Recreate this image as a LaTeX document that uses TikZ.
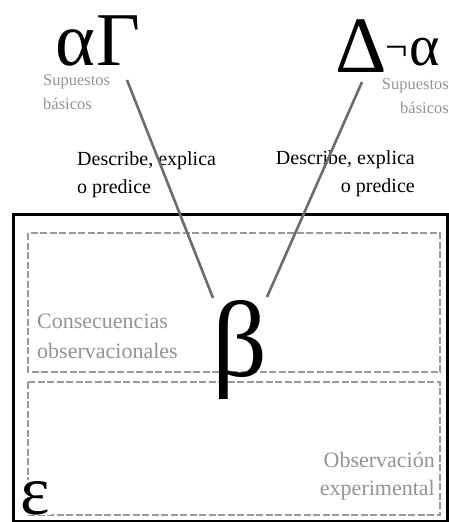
\documentclass[tikz,border=0pt]{standalone}
\usepackage{fontspec}
\setmainfont{Liberation Serif}
\begin{document}
\begin{tikzpicture}[x=1pt,y=1pt,
  lbl/.style={inner sep=0pt},
  graylbl/.style={inner sep=0pt,text=gray!85},
  sym/.style={inner sep=0pt,text depth=0pt},
  conn/.style={draw=gray!85!black,line width=2.6pt},
  dbox/.style={draw=gray!80,line width=1.4pt,dash pattern=on 7pt off 2.5pt},
  obox/.style={draw=black,line width=3pt}]
\useasboundingbox (0,0) rectangle (449,-522);
% boxes
\draw[obox] (13,-214) rectangle (447,-521);
\draw[dbox] (28,-233) rectangle (440,-372);
\draw[dbox] (28,-382) rectangle (440,-515);
% greek symbols
\node[sym,anchor=base west,font=\fontsize{76}{76}\selectfont] (ag) at (55,-65) {α\kern1ptΓ};
\node[sym,anchor=base west,font=\fontsize{80}{80}\selectfont] (dna) at (335,-72)
  {Δ\kern-1pt\raisebox{12pt}{\fontsize{40}{40}\selectfont ¬}\kern1pt\raisebox{7pt}{\fontsize{58}{58}\selectfont α}};
\node[sym,anchor=base,font=\fontsize{108}{108}\selectfont] (beta) at (240,-376) {β};
\node[sym,anchor=base west,fill=white,inner sep=1pt,font=\fontsize{70}{70}\selectfont] (eps) at (19,-514) {ε};
% gray labels
\node[graylbl,anchor=base west,font=\fontsize{16.5}{24}\selectfont] (supL1) at (43,-85) {Supuestos};
\node[graylbl,anchor=base west,font=\fontsize{16.5}{24}\selectfont] (supL2) at (43,-109) {básicos};
\node[graylbl,anchor=base east,align=right,font=\fontsize{16.5}{24}\selectfont] (supR) at (449,-113) {Supuestos\\básicos};
\node[graylbl,anchor=base west,align=left,font=\fontsize{22}{30}\selectfont] (cons) at (37,-358) {Consecuencias\\observacionales};
\node[graylbl,anchor=base east,align=right,font=\fontsize{22}{28}\selectfont] (obs) at (435,-495) {Observación\\experimental};
% black labels
\node[lbl,anchor=base west,align=left,font=\fontsize{20}{28}\selectfont] (descL) at (77,-193) {Describe, explica\\o predice};
\node[lbl,anchor=base east,align=right,font=\fontsize{20}{28}\selectfont] (descR) at (415,-192) {Describe, explica\\o predice};
% connectors
\coordinate (sL) at (127,-80);
\coordinate (eL) at (213,-298);
\coordinate (sR) at (362,-82);
\coordinate (eR) at (267,-297);
\draw[conn] (sL) -- (eL);
\draw[conn] (sR) -- (eR);
\end{tikzpicture}
\end{document}
